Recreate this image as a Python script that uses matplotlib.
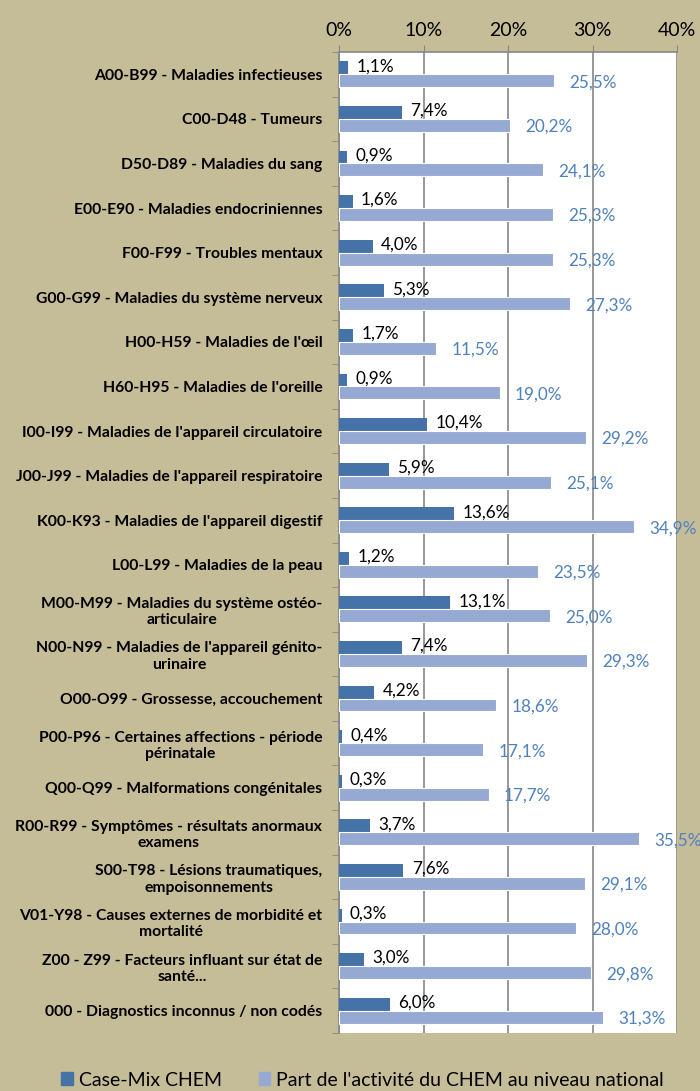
import numpy as np
import matplotlib
matplotlib.use("Agg")
import matplotlib.pyplot as plt
from matplotlib.patches import Patch

categories = [
    "A00-B99 - Maladies infectieuses",
    "C00-D48 - Tumeurs",
    "D50-D89 - Maladies du sang",
    "E00-E90 - Maladies endocriniennes",
    "F00-F99 - Troubles mentaux",
    "G00-G99 - Maladies du système nerveux",
    "H00-H59 - Maladies de l'œil",
    "H60-H95 - Maladies de l'oreille",
    "I00-I99 - Maladies de l'appareil circulatoire",
    "J00-J99 - Maladies de l'appareil respiratoire",
    "K00-K93 - Maladies de l'appareil digestif",
    "L00-L99 - Maladies de la peau",
    "M00-M99 - Maladies du système ostéo-\narticulaire",
    "N00-N99 - Maladies de l'appareil génito-\nurinaire",
    "O00-O99 - Grossesse, accouchement",
    "P00-P96 - Certaines affections - période\npérinatale",
    "Q00-Q99 - Malformations congénitales",
    "R00-R99 - Symptômes - résultats anormaux\nexamens",
    "S00-T98 - Lésions traumatiques,\nempoisonnements",
    "V01-Y98 - Causes externes de morbidité et\nmortalité",
    "Z00 - Z99 - Facteurs influant sur état de\nsanté...",
    "000 - Diagnostics inconnus / non codés",
]
case_mix = [1.1, 7.4, 0.9, 1.6, 4.0, 5.3, 1.7, 0.9, 10.4, 5.9, 13.6,
            1.2, 13.1, 7.4, 4.2, 0.4, 0.3, 3.7, 7.6, 0.3, 3.0, 6.0]
part_national = [25.5, 20.2, 24.1, 25.3, 25.3, 27.3, 11.5, 19.0, 29.2, 25.1, 34.9,
                 23.5, 25.0, 29.3, 18.6, 17.1, 17.7, 35.5, 29.1, 28.0, 29.8, 31.3]
x_ticks = [0, 10, 20, 30, 40]
series_names = ["Case-Mix CHEM", "Part de l'activité du CHEM au niveau national"]

BG = "#C5BC98"
DARK = "#4572A7"
LIGHT = "#95A9D2"
LABEL_BLUE = "#4F81BD"
GRID = "#868686"

plt.rcParams["font.family"] = ["Lato", "DejaVu Sans"]

fig = plt.figure(figsize=(7.0, 10.91), dpi=100, facecolor=BG)
ax = fig.add_axes([339 / 700, 1 - 1033 / 1091, 338 / 700, 981 / 1091])
ax.set_facecolor("white")

y = np.arange(len(categories))
h = 0.29
ax.barh(y - h / 2, case_mix, height=h, color=DARK, zorder=3)
ax.barh(y + h / 2, part_national, height=h, color=LIGHT,
        edgecolor="white", linewidth=0.8, zorder=3)

# value labels: black next to the dark bar, blue a bit further out for the light one
for yi, v in zip(y, case_mix):
    ax.text(v + 1.0, yi - h * 0.62, f"{v:.1f}%".replace(".", ","),
            ha="left", va="center", fontsize=12.3, color="black", zorder=4)
for yi, v in zip(y, part_national):
    ax.text(v + 1.8, yi + h * 0.62, f"{v:.1f}%".replace(".", ","),
            ha="left", va="center", fontsize=12.3, color=LABEL_BLUE, zorder=4)

ax.set_xlim(0, 40)
ax.set_ylim(len(categories) - 0.5, -0.5)
ax.xaxis.tick_top()
ax.set_xticks(x_ticks)
ax.set_xticklabels([f"{t}%" for t in x_ticks], fontsize=14)
ax.tick_params(axis="x", direction="out", length=5, color=GRID, pad=4)
ax.grid(axis="x", color=GRID, linewidth=1.2, zorder=0)

ax.set_yticks(y)
ax.set_yticklabels(categories, fontsize=11.3, fontweight="bold", ha="right",
                   multialignment="center")
ax.tick_params(axis="y", which="major", length=0, pad=12)
ax.set_yticks(np.arange(len(categories) + 1) - 0.5, minor=True)
ax.tick_params(axis="y", which="minor", direction="out", length=5, color=GRID)

for side in ["right", "bottom"]:
    ax.spines[side].set_visible(False)
for side in ["left", "top"]:
    ax.spines[side].set_color(GRID)
    ax.spines[side].set_linewidth(1.2)

handles = [Patch(color=DARK), Patch(color=LIGHT)]
fig.legend(handles, series_names, loc="center", bbox_to_anchor=(0.518, 1 - 1080 / 1091),
           ncol=2, frameon=False, fontsize=14, handlelength=0.6, handleheight=0.6,
           handletextpad=0.3, columnspacing=1.9)

fig.savefig("out.png", dpi=100, facecolor=BG)
